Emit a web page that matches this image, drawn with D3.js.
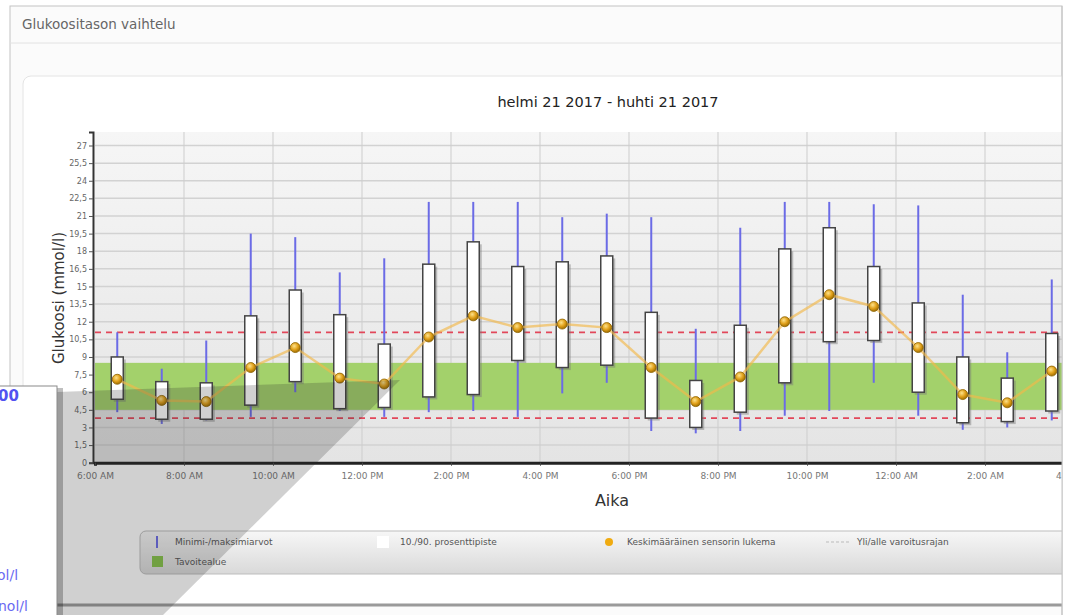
<!DOCTYPE html>
<html>
<head>
<meta charset="utf-8">
<script src="https://cdn.jsdelivr.net/npm/d3@7"></script>
<style>
body { margin: 0; background: #fff; }
svg { display: block; font-family: "DejaVu Sans", sans-serif; }
</style>
</head>
<body>
<svg width="1075" height="615"></svg>
<script>
// hourly slots (box centres)
const hours = ["06:30","07:30","08:30","09:30","10:30","11:30","12:30","13:30","14:30","15:30","16:30",
  "17:30","18:30","19:30","20:30","21:30","22:30","23:30","00:30","01:30","02:30","03:30"];
const minVals  = [4.3,3.3,3.6,3.9,6.0,4.4,3.9,4.3,4.4,3.9,5.9,6.8,2.7,2.5,2.7,4.0,4.4,6.8,4.0,2.8,3.0,3.6];
const p10Vals  = [5.4,3.7,3.7,4.9,6.9,4.6,4.7,5.6,5.8,8.7,8.1,8.3,3.8,3.0,4.3,6.8,10.3,10.4,6.0,3.4,3.5,4.4];
const meanVals = [7.1,5.3,5.2,8.1,9.8,7.2,6.7,10.7,12.5,11.5,11.8,11.5,8.1,5.2,7.3,12.0,14.3,13.3,9.8,5.8,5.1,7.8];
const p90Vals  = [9.0,6.9,6.8,12.5,14.7,12.6,10.1,16.9,18.8,16.7,17.1,17.6,12.8,7.0,11.7,18.2,20.0,16.7,13.6,9.0,7.2,11.0];
const maxVals  = [11.1,8.0,10.4,19.5,19.2,16.2,17.4,22.2,22.2,22.2,20.9,21.2,20.9,11.4,20.0,22.2,22.2,22.0,21.9,14.3,9.4,15.6];

const yTicks = [0,1.5,3,4.5,6,7.5,9,10.5,12,13.5,15,16.5,18,19.5,21,22.5,24,25.5,27];
const xTicks = ["06:00","08:00","10:00","12:00","14:00","16:00","18:00","20:00","22:00","00:00","02:00","04:00"];
const targetRange = [4.5, 8.5];
const warnLimits = [3.8, 11.1];

const legendItems = ["Minimi-/maksimiarvot","10./90. prosenttipiste","Keskimääräinen sensorin lukema","Yli/alle varoitusrajan","Tavoitealue"];

// times before 06:00 belong to the next day
function t(s) {
  const [h, m] = s.split(":").map(Number);
  return new Date(2017, 3, h < 6 ? 21 : 20, h, m);
}

const fi = d3.formatLocale({decimal: ",", thousands: " ", grouping: [3], currency: ["", "€"]});
const yFmt = fi.format("~g");

const svg = d3.select("svg");
const defs = svg.append("defs");

const bgGrad = defs.append("linearGradient").attr("id", "plotbg").attr("x1", 0).attr("x2", 0).attr("y1", 0).attr("y2", 1);
bgGrad.append("stop").attr("offset", "0%").attr("stop-color", "#f6f6f6");
bgGrad.append("stop").attr("offset", "100%").attr("stop-color", "#e4e4e4");

const legGrad = defs.append("linearGradient").attr("id", "legbg").attr("x1", 0).attr("x2", 0).attr("y1", 0).attr("y2", 1);
legGrad.append("stop").attr("offset", "0%").attr("stop-color", "#f7f7f7");
legGrad.append("stop").attr("offset", "100%").attr("stop-color", "#d9d9d9");

const dotGrad = defs.append("radialGradient").attr("id", "dot").attr("cx", "40%").attr("cy", "35%").attr("r", "65%");
dotGrad.append("stop").attr("offset", "0%").attr("stop-color", "#fde28a");
dotGrad.append("stop").attr("offset", "55%").attr("stop-color", "#e2a21c");
dotGrad.append("stop").attr("offset", "100%").attr("stop-color", "#a06e00");

defs.append("clipPath").attr("id", "panel")
  .append("rect").attr("x", 0).attr("y", 0).attr("width", 1062).attr("height", 615);

// outer panel
svg.append("rect").attr("x", 10).attr("y", 6).attr("width", 1052).attr("height", 620)
  .attr("fill", "#fbfbfb").attr("stroke", "#c4c4c4");
svg.append("line").attr("x1", 10).attr("x2", 1062).attr("y1", 43).attr("y2", 43).attr("stroke", "#e2e2e2");
svg.append("text").attr("x", 22).attr("y", 29).attr("font-size", 13.5).attr("fill", "#666")
  .text("Glukoositason vaihtelu");

const g = svg.append("g").attr("clip-path", "url(#panel)");

// chart card
g.append("rect").attr("x", 23).attr("y", 76).attr("width", 1080).attr("height", 529).attr("rx", 8)
  .attr("fill", "#fff").attr("stroke", "#e4e4e4");
g.append("line").attr("x1", 23).attr("x2", 1062).attr("y1", 605).attr("y2", 605)
  .attr("stroke", "#9a9a9a").attr("stroke-width", 3);

const x = d3.scaleTime().domain([t("06:00"), t("04:00")]).range([95, 1074]);
const y = d3.scaleLinear().domain([0, 28.15]).range([462.7, 132]);

// plot background
g.append("rect").attr("x", x.range()[0]).attr("y", y.range()[1])
  .attr("width", x.range()[1] - x.range()[0]).attr("height", y.range()[0] - y.range()[1])
  .attr("fill", "url(#plotbg)");

g.append("g").selectAll("line").data(yTicks.slice(1)).join("line")
  .attr("x1", x.range()[0]).attr("x2", x.range()[1])
  .attr("y1", d => y(d)).attr("y2", d => y(d))
  .attr("stroke", "#d2d2d2").attr("stroke-width", 1.5);

g.append("g").selectAll("line").data(xTicks.slice(1)).join("line")
  .attr("x1", d => x(t(d))).attr("x2", d => x(t(d)))
  .attr("y1", y.range()[1]).attr("y2", y.range()[0])
  .attr("stroke", "#cdcdcd").attr("stroke-width", 1);

// target range
g.append("rect").attr("x", x.range()[0]).attr("width", x.range()[1] - x.range()[0])
  .attr("y", y(targetRange[1])).attr("height", y(targetRange[0]) - y(targetRange[1]))
  .attr("fill", "#a3d16b");

// warning limits
g.append("g").selectAll("line").data(warnLimits).join("line")
  .attr("x1", x.range()[0]).attr("x2", x.range()[1])
  .attr("y1", d => y(d)).attr("y2", d => y(d))
  .attr("stroke", "#e2475a").attr("stroke-width", 1.8).attr("stroke-dasharray", "6,5");

const rows = hours.map((h, i) => ({
  t: t(h), min: minVals[i], p10: p10Vals[i], mean: meanVals[i], p90: p90Vals[i], max: maxVals[i]
}));

// whiskers
g.append("g").selectAll("line").data(rows).join("line")
  .attr("x1", d => x(d.t)).attr("x2", d => x(d.t))
  .attr("y1", d => y(d.max)).attr("y2", d => y(d.min))
  .attr("stroke", "#6b6be6").attr("stroke-width", 2);

const bw = 12;
// box shadows then boxes
g.append("g").selectAll("rect").data(rows).join("rect")
  .attr("x", d => x(d.t) - bw / 2 + 2.5).attr("y", d => y(d.p90) + 2.5)
  .attr("width", bw).attr("height", d => y(d.p10) - y(d.p90))
  .attr("fill", "#777").attr("opacity", 0.45);
g.append("g").selectAll("rect").data(rows).join("rect")
  .attr("x", d => x(d.t) - bw / 2).attr("y", d => y(d.p90))
  .attr("width", bw).attr("height", d => y(d.p10) - y(d.p90))
  .attr("fill", "#fff").attr("stroke", "#444").attr("stroke-width", 1.5);

// mean line + dots
g.append("path").datum(rows)
  .attr("d", d3.line().x(d => x(d.t)).y(d => y(d.mean)))
  .attr("fill", "none").attr("stroke", "#f2b84a").attr("stroke-opacity", 0.65).attr("stroke-width", 2.5);
g.append("g").selectAll("circle").data(rows).join("circle")
  .attr("cx", d => x(d.t)).attr("cy", d => y(d.mean)).attr("r", 5)
  .attr("fill", "url(#dot)").attr("stroke", "#8c6200").attr("stroke-width", 0.8);

// axes
const yAxis = g.append("g").attr("transform", `translate(${x.range()[0] - 2},0)`)
  .call(d3.axisLeft(y).tickValues(yTicks).tickSize(4).tickPadding(2).tickFormat(yFmt));
yAxis.select(".domain").attr("stroke", "#333").attr("stroke-width", 2);
yAxis.selectAll(".tick line").attr("stroke", "#555");
yAxis.selectAll("text").attr("font-size", 8).attr("fill", "#666")
  .attr("font-family", "DejaVu Sans, sans-serif");

const xAxis = g.append("g").attr("transform", `translate(0,${y.range()[0]})`)
  .call(d3.axisBottom(x).tickValues(xTicks.map(t)).tickSize(3).tickPadding(7)
    .tickFormat(d3.timeFormat("%-I:%M %p")));
xAxis.select(".domain").attr("stroke", "#222").attr("stroke-width", 3);
xAxis.selectAll(".tick line").attr("stroke", "#444");
xAxis.selectAll("text").attr("font-size", 9).attr("fill", "#777")
  .attr("font-family", "DejaVu Sans, sans-serif");

// titles
g.append("text").attr("x", 608).attr("y", 107).attr("text-anchor", "middle")
  .attr("font-size", 14.5).attr("fill", "#222").text("helmi 21 2017 - huhti 21 2017");
g.append("text").attr("x", 612).attr("y", 506).attr("text-anchor", "middle")
  .attr("font-size", 16).attr("fill", "#333").text("Aika");
g.append("text").attr("transform", "translate(64,298) rotate(-90)").attr("text-anchor", "middle")
  .attr("font-size", 15).attr("fill", "#333").text("Glukoosi (mmol/l)");

// legend
const leg = g.append("g");
leg.append("rect").attr("x", 140).attr("y", 531).attr("width", 1000).attr("height", 43).attr("rx", 6)
  .attr("fill", "url(#legbg)").attr("stroke", "#bdbdbd");
leg.append("line").attr("x1", 157).attr("x2", 157).attr("y1", 536).attr("y2", 548)
  .attr("stroke", "#6b6be6").attr("stroke-width", 2);
leg.append("rect").attr("x", 377).attr("y", 536).attr("width", 12).attr("height", 12).attr("fill", "#fff");
leg.append("circle").attr("cx", 609).attr("cy", 542).attr("r", 4).attr("fill", "#f0ab10");
leg.append("line").attr("x1", 826).attr("x2", 850).attr("y1", 542).attr("y2", 542)
  .attr("stroke", "#bbb").attr("stroke-dasharray", "3,2");
leg.append("rect").attr("x", 152).attr("y", 556).attr("width", 11).attr("height", 11).attr("fill", "#86c24a");
const legPos = [[175, 545], [400, 545], [627, 545], [857, 545], [175, 565]];
leg.selectAll("text").data(legendItems).join("text")
  .attr("x", (d, i) => legPos[i][0]).attr("y", (d, i) => legPos[i][1])
  .attr("font-size", 9).attr("fill", "#555").text(d => d);

// frame right edge
svg.append("line").attr("x1", 1062).attr("x2", 1062).attr("y1", 6).attr("y2", 615).attr("stroke", "#c4c4c4");

// callout overlay
svg.append("path")
  .attr("d", "M57,392 L400,380 L163,615 L57,615 Z")
  .attr("fill", "rgba(40,40,40,0.22)");
svg.append("rect").attr("x", -6).attr("y", 386).attr("width", 66).attr("height", 240)
  .attr("fill", "#000").attr("opacity", 0.25).attr("transform", "translate(3,2)");
svg.append("rect").attr("x", -6).attr("y", 386).attr("width", 63).attr("height", 240)
  .attr("fill", "#fff").attr("stroke", "#8a8a8a");
svg.append("text").attr("x", -2).attr("y", 401).attr("font-size", 15).attr("font-weight", "bold")
  .attr("fill", "#5252f0").text("00");
svg.append("text").attr("x", -3).attr("y", 580).attr("font-size", 14).attr("fill", "#6a6af2").text("ol/l");
svg.append("text").attr("x", -2).attr("y", 611).attr("font-size", 14).attr("fill", "#6a6af2").text("nol/l");
</script>
</body>
</html>
